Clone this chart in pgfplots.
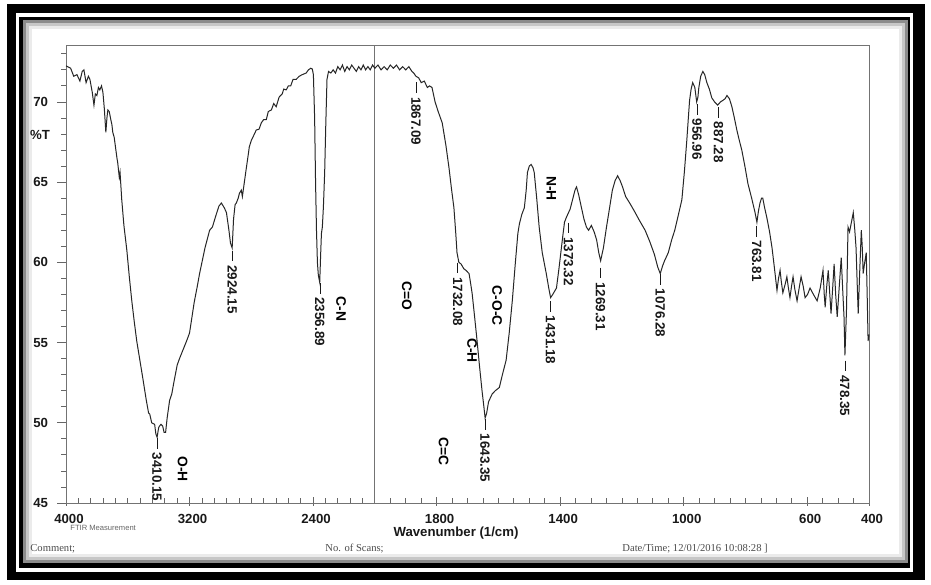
\documentclass[border=0pt]{standalone}
\usepackage{pgfplots}
\pgfplotsset{compat=1.18}
\usepackage{fontspec}
\setmainfont{Liberation Sans}
\newfontfamily\seriffont{Liberation Serif}
\newcommand\pl{\rule[0.33em]{0.8em}{0.45bp}\hspace{0.3em}}
\begin{document}
\begin{tikzpicture}[x=0.5bp,y=0.5bp,
  pk/.style={rotate=-90, anchor=west, inner sep=0pt, font=\bfseries\fontsize{6.7bp}{7bp}\selectfont, text=black!90},
  fg/.style={rotate=-90, inner sep=0pt, font=\bfseries\fontsize{6.9bp}{7bp}\selectfont, text=black}]
% background and frame
\fill[white] (0,0) rectangle (931,585);
\fill[black] (7,5) rectangle (925,581);
\fill[white] (16,13) rectangle (913,572);
\fill[black] (19,17) rectangle (910,568);
\fill[white] (23,22) rectangle (907,564);
\draw[black!45, line width=1.5bp] (24,23) rectangle (906,563);
\draw[black!22, line width=1.5bp] (27,26) rectangle (903,560);
\draw[black!8, line width=1.5bp] (30,29) rectangle (900,557);
\begin{axis}[
  at={(33bp,41bp)}, anchor=south west,
  scale only axis, width=401.5bp, height=229bp,
  xmin=0, xmax=5200, ymin=45, ymax=73.55,
  clip=false,
  x filter/.expression={x>=2000 ? 4000-x : 6000-2*x},
  axis line style={black!55, line width=0.4bp},
  tick pos=left,
  tick align=outside,
  major tick length=4.5bp, minor tick length=2.5bp,
  tick style={black!60, line width=0.4bp},
  major x tick style={yshift=3bp},
  minor x tick style={yshift=2.5bp},
  xtick={0,800,1600,2400,3200,4000,4800,5200},
  xticklabels={4000,3200,2400,1800,1400,1000,600,400},
  minor xtick={80,160,240,320,400,480,560,640,720,880,960,1040,1120,1200,1280,1360,1440,1520,1680,1760,1840,1920,
    2100,2200,2300,2500,2600,2700,2800,2900,3000,3100,3300,3400,3500,3600,3700,3800,3900,4100,4200,4300,4400,4500,4600,4700,4900,5000,5100},
  extra x ticks={2000}, extra x tick labels={},
  extra x tick style={grid=major, major grid style={black!55, line width=0.4bp}, major tick length=0pt},
  ytick={45,50,55,60,65,70},
  minor ytick={46,47,48,49,51,52,53,54,56,57,58,59,61,62,63,64,66,67,68,69,71,72,73},
  /pgf/number format/assume math mode=true,
  tick label style={font=\bfseries\fontsize{6.6bp}{7bp}\selectfont, text=black!90},
  x tick label style={xshift=1.5bp, yshift=2.5bp},
  y tick label style={xshift=-1bp},
]
\addplot[black!85, line width=0.5bp] table {
4000 72.25
3970 72.1
3950 71.6
3929 71.7
3910 71.3
3895 71.9
3884 72.0
3870 71.2
3855 71.6
3845 71.4
3830 70.6
3819 69.8
3810 70.5
3800 70.4
3790 70.9
3781 70.75
3770 71.0
3761 70.6
3752 69.6
3742 68.1
3735 69.0
3729 69.5
3720 69.4
3710 68.9
3703 68.6
3697 68.1
3688 67.8
3677 67.0
3670 66.5
3665 66.2
3655 65.3
3650 65.6
3639 63.9
3625 62.3
3606 60.75
3590 59.1
3574 57.6
3558 56.3
3542 55.1
3520 53.8
3503 52.8
3480 51.4
3465 50.6
3458 50.55
3445 50.0
3426 49.9
3418 49.3
3410 49.1
3400 49.7
3394 49.8
3385 49.9
3374 49.8
3365 49.4
3355 49.4
3345 50.3
3329 51.4
3315 51.8
3300 52.6
3280 53.6
3265 54.0
3240 54.6
3219 55.1
3200 55.6
3170 57.5
3150 58.5
3135 59.3
3100 60.9
3070 62.0
3052 62.2
3030 62.9
3010 63.5
2994 63.7
2975 63.4
2961 63.1
2945 62.0
2935 61.2
2924 60.9
2915 62.7
2905 63.6
2897 63.7
2885 64.0
2877 64.3
2865 64.5
2858 64.1
2845 65.0
2832 65.9
2820 66.7
2813 67.2
2800 67.6
2785 67.9
2768 68.25
2750 68.3
2735 68.7
2720 68.9
2703 68.9
2690 69.4
2670 69.5
2655 69.9
2639 69.7
2620 70.3
2600 70.5
2590 70.8
2574 70.75
2560 71.0
2545 71.0
2530 71.4
2510 71.4
2490 71.6
2470 71.7
2445 71.8
2430 72.0
2415 72.1
2405 72.05
2398 71.7
2390 69.0
2384 65.0
2378 62.0
2372 60.0
2366 59.2
2357 58.75
2351 60.5
2346 61.8
2340 62.2
2333 63.5
2325 65.6
2318 68.5
2310 71.4
2300 71.9
2285 71.8
2270 72.0
2255 71.8
2240 72.2
2225 72.0
2210 72.3
2195 71.9
2180 72.2
2165 72.0
2150 72.3
2135 72.1
2120 71.9
2105 72.2
2090 72.0
2075 72.3
2060 72.0
2045 72.2
2030 72.0
2015 72.3
2000 72.1
1990 72.3
1980 72.0
1970 72.2
1960 72.0
1950 72.3
1940 72.1
1930 72.3
1920 72.0
1910 72.2
1900 72.0
1890 72.2
1880 71.9
1874 71.8
1867 71.6
1858 71.5
1850 71.2
1840 71.3
1830 70.9
1823 71.0
1815 70.9
1805 70.0
1795 69.4
1782 68.7
1770 67.3
1760 65.9
1752 64.6
1744 63.4
1738 61.8
1734 60.6
1728 60.0
1721 59.9
1712 59.6
1705 59.5
1695 59.3
1690 58.7
1685 58.06
1677 56.6
1669 55.1
1661 53.5
1653 52.0
1647 51.0
1643 50.3
1638 50.6
1632 51.3
1625 51.6
1620 51.8
1610 52.0
1597 52.2
1587 53.0
1575 53.9
1565 55.6
1555 57.6
1545 60.0
1537 61.8
1532 62.4
1524 63.0
1516 63.4
1510 64.5
1506 65.6
1500 66.0
1494 66.1
1488 65.9
1484 65.6
1476 64.0
1468 62.2
1458 60.6
1445 59.3
1437 58.4
1431 57.8
1424 58.0
1418 58.2
1412 58.4
1404 59.6
1393 61.4
1386 62.5
1380 62.8
1373 63.1
1368 63.3
1360 63.9
1352 64.5
1347 64.7
1340 64.2
1331 63.4
1323 62.7
1315 62.2
1308 62.0
1299 62.3
1290 61.9
1282 61.4
1275 60.6
1269 60.1
1260 60.9
1250 62.2
1240 63.4
1231 64.5
1222 65.1
1214 65.4
1206 65.1
1198 64.7
1188 64.1
1175 63.7
1160 63.2
1143 62.6
1125 62.0
1110 61.3
1095 60.5
1084 59.7
1076 59.3
1068 59.8
1062 60.1
1050 60.6
1039 61.4
1029 62.0
1018 62.9
1006 63.9
998 65.6
990 67.6
985 69.0
981 70.1
976 70.8
971 71.2
966 71.0
964 70.9
958 70.0
954 70.3
951 70.9
945 71.6
938 71.9
932 71.7
925 71.2
917 70.8
909 70.25
900 70.0
890 69.8
881 70.0
873 70.1
866 70.2
860 70.4
852 70.2
844 69.7
836 69.0
828 68.25
820 67.6
812 67.0
802 66.0
792 64.9
780 64.0
769 63.1
763 62.5
758 63.2
753 63.7
748 64.0
744 64.0
738 63.4
731 62.8
722 61.9
714 60.9
706 59.6
698 58.25
693 59.0
688 59.5
684 58.8
679 58.1
672 58.6
666 59.1
661 58.4
656 57.8
651 58.5
646 59.1
640 58.3
633 57.6
627 58.3
620 59.1
613 58.5
607 57.8
599 58.0
591 58.4
580 58.0
568 57.6
558 58.4
549 59.5
545 58.0
542 57.2
537 58.5
532 59.5
527 58.0
523 56.8
518 58.3
513 59.9
508 58.0
503 56.6
496 58.6
490 60.3
485 58.2
481 56.6
478 54.2
473 57.0
468 62.2
463 61.9
458 62.4
454 62.8
451 63.1
446 62.0
442 60.9
438 58.5
435 56.8
430 59.5
425 62.0
422 61.0
419 59.3
414 60.0
409 60.6
406 58.0
403 55.1
400 55.5
};
% peak labels
\node[pk] at (axis cs:589.85,49.06) {\pl 3410.15};
\node[pk] at (axis cs:1075.85,60.75) {\pl 2924.15};
\node[pk] at (axis cs:1643.11,58.75) {\pl 2356.89};
\node[pk] at (axis cs:2265.82,71.25) {\pl 1867.09};
\node[pk] at (axis cs:2535.84,60.0) {\pl 1732.08};
\node[pk] at (axis cs:2713.3,50.25) {\pl 1643.35};
\node[pk] at (axis cs:3137.64,57.6) {\pl 1431.18};
\node[pk] at (axis cs:3253.36,62.5) {\pl 1373.32};
\node[pk] at (axis cs:3461.38,59.7) {\pl 1269.31};
\node[pk] at (axis cs:3847.44,59.3) {\pl 1076.28};
\node[pk] at (axis cs:4086.08,69.9) {\pl 956.96};
\node[pk] at (axis cs:4225.44,69.7) {\pl 887.28};
\node[pk] at (axis cs:4472.38,62.3) {\pl 763.81};
\node[pk] at (axis cs:5043.3,53.9) {\pl 478.35};
% functional groups
\node[fg] at (axis cs:755,47.1) {O-H};
\node[fg] at (axis cs:1781,57.1) {C-N};
\node[fg] at (axis cs:2208,57.9) {C=O};
\node[fg] at (axis cs:2445,48.2) {C=C};
\node[fg] at (axis cs:2630,54.5) {C-H};
\node[fg] at (axis cs:2792,57.3) {C-O-C};
\node[fg] at (axis cs:3143,64.6) {N-H};
\end{axis}
% labels outside axis
\node[font=\bfseries\fontsize{6.6bp}{7bp}\selectfont, text=black!90] at (40,450) {\%T};
\node[font=\bfseries\fontsize{6.6bp}{7bp}\selectfont, text=black!90] at (456,52) {Wavenumber (1/cm)};
\node[anchor=west, inner sep=0pt, font=\fontsize{3.8bp}{4bp}\selectfont, text=black!60] at (70,57) {FTIR Measurement};
\node[anchor=west, inner sep=0pt, font=\seriffont\fontsize{5.3bp}{6bp}\selectfont, text=black!70] at (30,36) {Comment;};
\node[anchor=west, inner sep=0pt, font=\seriffont\fontsize{5.3bp}{6bp}\selectfont, text=black!70] at (325,36) {No. of Scans;};
\node[anchor=west, inner sep=0pt, font=\seriffont\fontsize{5.3bp}{6bp}\selectfont, text=black!70] at (622,36) {Date/Time; 12/01/2016 10:08:28 ]};
\end{tikzpicture}
\end{document}
